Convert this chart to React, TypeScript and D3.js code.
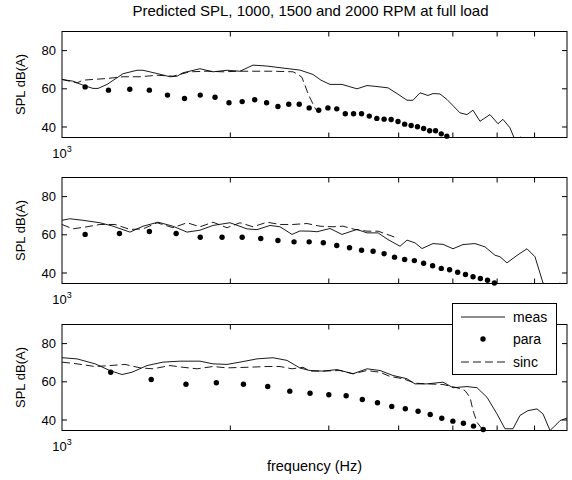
import React from 'react';
import * as d3 from 'd3';

const W = 572;
const H = 480;
const TITLE = 'Predicted SPL, 1000, 1500 and 2000 RPM at full load';
const Y_LABEL = 'SPL dB(A)';
const X_LABEL = 'frequency (Hz)';
const LEGEND_LABELS = ['meas', 'para', 'sinc'];
const X_DOMAIN = [1000, 8000];
const Y_DOMAIN = [34.5, 90];
const Y_TICKS = [40, 60, 80];
const X_MINOR_TICKS = [2000, 3000, 4000, 5000, 6000, 7000];

// Panel 1: 1000 RPM
const meas1: [number, number][] = [
  [1000, 64.9], [1046, 64.0], [1090, 61.9], [1136, 60.2], [1160, 60.2], [1204, 62.3], [1286, 67.9],
  [1362, 69.7], [1396, 69.7], [1479, 68.0], [1560, 66.3], [1606, 66.6], [1646, 68.4], [1765, 70.5],
  [1862, 68.9], [1973, 69.7], [2081, 69.2], [2196, 72.4], [2326, 71.9], [2526, 70.6], [2664, 69.8],
  [2811, 67.5], [2905, 64.5], [3015, 62.3], [3167, 62.3], [3369, 60.0], [3511, 61.7], [3629, 61.3],
  [3828, 60.5], [3973, 57.5], [4140, 54.0], [4243, 54.0], [4368, 57.9], [4513, 56.5], [4607, 57.5],
  [4742, 57.3], [4881, 54.4], [5149, 47.4], [5299, 46.5], [5432, 48.8], [5591, 43.0], [5826, 46.5],
  [6021, 41.7], [6146, 44.0], [6325, 39.6], [6431, 34.5], [6538, 33.8], [6619, 34.8], [6701, 32.0],
];
const sinc1: [number, number][] = [
  [1000, 64.9], [1064, 63.1], [1090, 64.5], [1136, 64.9], [1204, 65.4], [1286, 66.3], [1379, 66.3],
  [1479, 67.1], [1579, 66.6], [1694, 68.9], [1817, 69.2], [1941, 68.9], [2081, 69.2], [2232, 69.2],
  [2384, 69.2], [2589, 68.9], [2643, 67.5], [2686, 66.0], [2754, 57.5], [2811, 52.0], [2846, 49.0],
];
const para1: [number, number][] = [
  [1100, 61.0], [1211, 59.3], [1322, 59.8], [1433, 59.3], [1544, 56.7], [1656, 54.9], [1767, 56.7],
  [1878, 55.6], [1989, 52.7], [2100, 53.3], [2211, 54.3], [2322, 52.7], [2433, 50.7], [2544, 51.9],
  [2656, 51.9], [2767, 50.0], [2878, 48.8], [2989, 50.0], [3100, 49.5], [3211, 46.9], [3322, 46.9],
  [3433, 46.9], [3544, 45.7], [3656, 44.5], [3767, 44.1], [3878, 43.9], [3989, 42.9], [4100, 41.5],
  [4211, 40.8], [4322, 40.1], [4433, 39.2], [4544, 38.0], [4656, 38.0], [4767, 36.4], [4878, 35.2],
];

// Panel 2: 1500 RPM
const meas2: [number, number][] = [
  [1000, 67.6], [1033, 68.4], [1090, 67.6], [1169, 66.3], [1234, 64.5], [1323, 61.4], [1396, 64.5],
  [1485, 66.6], [1579, 64.5], [1673, 61.4], [1765, 62.4], [1862, 64.9], [1997, 66.3], [2142, 63.1],
  [2232, 62.7], [2355, 64.9], [2454, 64.2], [2578, 60.2], [2664, 62.0], [2777, 61.9], [2858, 61.6],
  [3015, 63.3], [3167, 60.2], [3369, 62.8], [3511, 61.0], [3674, 61.0], [3828, 57.5], [4022, 54.0],
  [4140, 57.2], [4278, 55.8], [4403, 52.8], [4607, 55.4], [4801, 55.0], [5003, 52.7], [5213, 54.9],
  [5477, 55.4], [5707, 53.7], [5947, 49.3], [6071, 48.5], [6248, 45.3], [6511, 49.2], [6785, 52.7],
  [7012, 48.5], [7247, 34.8], [7398, 33.5], [7646, 33.8], [7773, 34.7], [7902, 33.5], [7999, 33.0],
];
const sinc2: [number, number][] = [
  [1000, 65.4], [1046, 63.1], [1108, 64.2], [1169, 65.4], [1244, 65.4], [1323, 62.8], [1396, 63.1],
  [1479, 66.3], [1579, 63.7], [1673, 66.3], [1765, 64.2], [1862, 66.6], [1973, 63.7], [2081, 66.3],
  [2196, 64.2], [2326, 66.6], [2454, 65.4], [2589, 65.4], [2742, 65.9], [2893, 64.5], [3052, 64.2],
  [3180, 64.5], [3342, 62.8], [3511, 61.9], [3674, 61.9], [3891, 59.3], [3956, 58.5],
];
const para2: [number, number][] = [
  [1100, 60.2], [1267, 60.7], [1433, 61.7], [1600, 60.7], [1767, 58.7], [1933, 58.7], [2100, 58.7],
  [2267, 58.1], [2433, 57.0], [2600, 56.3], [2767, 56.3], [2933, 55.8], [3100, 54.4], [3267, 53.2],
  [3433, 51.9], [3600, 51.4], [3767, 50.1], [3933, 48.3], [4100, 47.1], [4267, 46.5], [4433, 45.1],
  [4600, 43.8], [4767, 42.4], [4933, 41.7], [5100, 40.4], [5267, 39.2], [5433, 38.0], [5600, 37.1],
  [5767, 36.2], [5933, 34.8],
];

// Panel 3: 2000 RPM
const meas3: [number, number][] = [
  [1000, 72.6], [1064, 72.0], [1146, 69.4], [1218, 65.9], [1280, 63.8], [1334, 65.0], [1419, 68.5],
  [1516, 70.3], [1626, 70.8], [1765, 70.8], [1862, 69.4], [1973, 69.1], [2081, 70.3], [2232, 72.0],
  [2384, 72.6], [2526, 71.2], [2664, 67.2], [2777, 65.9], [2929, 65.6], [3103, 66.4], [3314, 64.2],
  [3511, 66.8], [3704, 65.9], [3907, 63.3], [4140, 61.6], [4278, 58.9], [4495, 58.9], [4801, 59.8],
  [5003, 56.9], [5299, 57.5], [5522, 56.9], [5755, 51.9], [5996, 43.2], [6197, 35.4], [6405, 35.4],
  [6592, 42.4], [6812, 44.9], [7069, 45.8], [7247, 43.2], [7460, 34.5], [7677, 38.0], [7773, 39.7],
  [7999, 41.0],
];
const sinc3: [number, number][] = [
  [1000, 70.3], [1064, 69.4], [1146, 68.0], [1218, 68.5], [1296, 69.1], [1379, 67.3], [1455, 66.8],
  [1560, 68.5], [1646, 67.6], [1744, 66.8], [1862, 68.0], [1973, 67.3], [2142, 67.6], [2326, 68.0],
  [2454, 68.0], [2578, 66.8], [2697, 67.6], [2777, 65.6], [2929, 65.6], [3142, 65.9], [3314, 64.2],
  [3511, 65.9], [3704, 65.0], [3860, 62.8], [4072, 61.6], [4278, 59.3], [4495, 58.9], [4801, 58.6],
  [5086, 56.9], [5256, 55.4], [5366, 51.9], [5432, 45.0], [5522, 38.8], [5637, 35.4],
];
const para3: [number, number][] = [
  [1222, 65.0], [1444, 61.2], [1666, 58.7], [1888, 59.5], [2111, 58.7], [2333, 57.5], [2555, 55.1],
  [2777, 54.0], [3000, 53.2], [3222, 52.7], [3444, 50.7], [3666, 49.0], [3888, 47.1], [4111, 45.9],
  [4333, 44.6], [4555, 42.9], [4777, 40.9], [5000, 39.4], [5222, 38.3], [5444, 36.8], [5666, 35.0],
];

const PANEL_DATA = [
  { meas: meas1, sinc: sinc1, para: para1 },
  { meas: meas2, sinc: sinc2, para: para2 },
  { meas: meas3, sinc: sinc3, para: para3 },
];

const FONT = "'Liberation Sans', Arial, sans-serif";
const LEFT = 62;
const RIGHT = 567;
const TOPS = [31.5, 177.5, 324.5];
const PH = 106;
const TICK = 5;
const DASH = '8,4';

export default function App() {
  const x = d3.scaleLog().domain(X_DOMAIN).range([LEFT, RIGHT]);

  return (
    <svg width={W} height={H} style={{ position: 'absolute', left: 0, top: 0, background: '#fff' }}
      fontFamily={FONT}>
      <rect x={0} y={0} width={W} height={H} fill="#fff" />
      <text x={(LEFT + RIGHT) / 2 - 4} y={16} textAnchor="middle" fontSize={15} fill="#000">{TITLE}</text>
      {PANEL_DATA.map((p, i) => {
        const top = TOPS[i];
        const bottom = top + PH;
        const y = d3.scaleLinear().domain(Y_DOMAIN).range([bottom, top]);
        const line = d3.line<[number, number]>().x(d => x(d[0])).y(d => y(d[1]));
        const clipId = `clip${i}`;
        return (
          <g key={i}>
            <defs>
              <clipPath id={clipId}>
                <rect x={LEFT} y={top} width={RIGHT - LEFT} height={PH} />
              </clipPath>
            </defs>
            <g clipPath={`url(#${clipId})`}>
              <path d={line(p.meas) || ''} fill="none" stroke="#000" strokeWidth={0.9} />
              <path d={line(p.sinc) || ''} fill="none" stroke="#000" strokeWidth={0.9} strokeDasharray={DASH} />
            </g>
            {p.para.map((d, j) => (
              <circle key={j} cx={x(d[0])} cy={y(d[1])} r={2.7} fill="#000" />
            ))}
            <rect x={LEFT} y={top} width={RIGHT - LEFT} height={PH} fill="none" stroke="#000" strokeWidth={1} />
            {X_MINOR_TICKS.map(t => (
              <g key={t}>
                <line x1={x(t)} x2={x(t)} y1={bottom} y2={bottom - TICK} stroke="#000" strokeWidth={1} />
                <line x1={x(t)} x2={x(t)} y1={top} y2={top + TICK} stroke="#000" strokeWidth={1} />
              </g>
            ))}
            {Y_TICKS.map(t => (
              <g key={t}>
                <line x1={LEFT} x2={LEFT + TICK} y1={y(t)} y2={y(t)} stroke="#000" strokeWidth={1} />
                <line x1={RIGHT} x2={RIGHT - TICK} y1={y(t)} y2={y(t)} stroke="#000" strokeWidth={1} />
                <text x={LEFT - 6} y={y(t)} dy="0.35em" textAnchor="end" fontSize={13} fill="#000">{t}</text>
              </g>
            ))}
            <text x={x(X_DOMAIN[0])} y={bottom + 20} textAnchor="middle" fontSize={13} fill="#000">
              10<tspan dy={-6} fontSize={9}>3</tspan>
            </text>
            <text transform={`translate(25,${(top + bottom) / 2}) rotate(-90)`} textAnchor="middle"
              fontSize={13} fill="#000">{Y_LABEL}</text>
          </g>
        );
      })}
      <text x={(LEFT + RIGHT) / 2} y={471} textAnchor="middle" fontSize={14.5} fill="#000">{X_LABEL}</text>
      <g>
        <rect x={452.5} y={303.5} width={104} height={71} fill="#fff" stroke="#000" strokeWidth={1} />
        <line x1={461} x2={505} y1={317} y2={317} stroke="#000" strokeWidth={0.9} />
        <circle cx={483} cy={339} r={2.7} fill="#000" />
        <line x1={461} x2={505} y1={362} y2={362} stroke="#000" strokeWidth={0.9} strokeDasharray={DASH} />
        {LEGEND_LABELS.map((l, k) => (
          <text key={l} x={513} y={[317, 339, 362][k]} dy="0.35em" fontSize={14} fill="#000">{l}</text>
        ))}
      </g>
    </svg>
  );
}
